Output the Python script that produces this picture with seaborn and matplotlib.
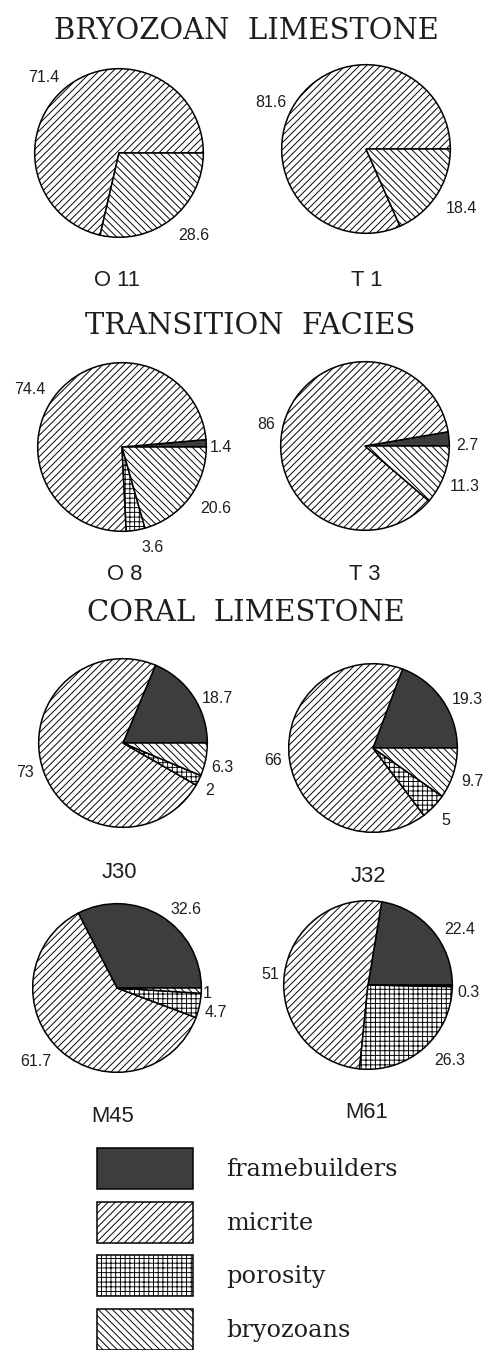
import matplotlib
matplotlib.use("Agg")
import matplotlib.pyplot as plt
from matplotlib.patches import Patch
import numpy as np
import seaborn as sns

# ---- data -------------------------------------------------------------
components = ["framebuilders", "micrite", "porosity", "bryozoans"]

o11 = [0.0, 71.4, 0.0, 28.6]
t1 = [0.0, 81.6, 0.0, 18.4]
o8 = [1.4, 74.4, 3.6, 20.6]
t3 = [2.7, 86.0, 0.0, 11.3]
j30 = [18.7, 73.0, 2.0, 6.3]
j32 = [19.3, 66.0, 5.0, 9.7]
m45 = [32.6, 61.7, 4.7, 1.0]
m61 = [22.4, 51.0, 26.3, 0.3]

sample_names = ["O 11", "T 1", "O 8", "T 3", "J30", "J32", "M45", "M61"]
group_titles = ["BRYOZOAN  LIMESTONE", "TRANSITION  FACIES", "CORAL  LIMESTONE"]

samples = dict(zip(sample_names, [o11, t1, o8, t3, j30, j32, m45, m61]))

# ---- styling ----------------------------------------------------------
sns.set_theme(style="white")
plt.rcParams["font.family"] = ["Liberation Sans", "DejaVu Sans"]
plt.rcParams["hatch.linewidth"] = 0.8
plt.rcParams["hatch.color"] = "black"

fills = {"framebuilders": "#3d3d3d", "micrite": "white",
         "porosity": "white", "bryozoans": "white"}
hatches = {"framebuilders": "", "micrite": "////",
           "porosity": "+++", "bryozoans": "\\\\\\\\"}
ink = "#1e1e1e"
serif = ["DejaVu Serif"]

W, H, DPI = 490, 1350, 85
R = 86  # pie radius in pixels


def fx(px):
    return px / W


def fy(py):
    return 1 - py / H


def pt(px):
    return px * 72 / DPI


# pie centres (pixels from top-left) and sample-name positions
layout = {
    "O 11": ((119, 153), (117, 280)),
    "T 1": ((366, 149), (367, 280)),
    "O 8": ((122, 447), (125, 575)),
    "T 3": ((365, 446), (365, 575)),
    "J30": ((123, 743), (119, 872)),
    "J32": ((373, 748), (368, 877)),
    "M45": ((117, 988), (113, 1117)),
    "M61": ((368, 985), (367, 1113)),
}

# value-label placement: (angle in degrees, distance in radii), per component
label_polar = {
    "O 11": [None, (135, 1.26), None, (-48, 1.32)],
    "T 1": [None, (154, 1.26), None, (-32, 1.33)],
    "O 8": [(0, 1.17), (148, 1.29), (-73, 1.25), (-33, 1.33)],
    "T 3": [(0.5, 1.21), (168, 1.20), None, (-22, 1.28)],
    "J30": [(25, 1.24), (197, 1.21), (-29, 1.17), (-14, 1.22)],
    "J32": [(27, 1.26), (187, 1.19), (-45, 1.22), (-18.6, 1.24)],
    "M45": [(49, 1.24), (222, 1.30), (-14, 1.21), (-3.7, 1.07)],
    "M61": [(31, 1.27), (174, 1.16), (-43, 1.32), (-4.4, 1.20)],
}

title_pos = [(246, 31), (250, 326), (246, 613)]

fig = plt.figure(figsize=(W / DPI, H / DPI), dpi=DPI)
fig.patch.set_facecolor("white")

for name, vals in samples.items():
    (cx, cy), (lx, ly) = layout[name]
    ax = fig.add_axes([fx(cx - R), fy(cy + R), 2 * R / W, 2 * R / H])
    keep = [i for i, v in enumerate(vals) if v > 0]
    wedges, _ = ax.pie(
        [vals[i] for i in keep],
        startangle=0,
        counterclock=True,
        radius=1,
        colors=[fills[components[i]] for i in keep],
        hatch=[hatches[components[i]] for i in keep],
        wedgeprops=dict(edgecolor="black", linewidth=1.3),
    )
    ax.set_xlim(-1.02, 1.02)
    ax.set_ylim(-1.02, 1.02)
    ax.set_aspect("equal")
    ax.axis("off")
    for i in keep:
        ang, dist = label_polar[name][i]
        a = np.deg2rad(ang)
        ax.text(dist * np.cos(a), dist * np.sin(a), f"{vals[i]:g}",
                ha="center", va="center", fontsize=pt(16), color=ink,
                clip_on=False)
    fig.text(fx(lx), fy(ly), name, ha="center", va="center",
             fontsize=pt(22), color=ink)

for title, (tx, ty) in zip(group_titles, title_pos):
    fig.text(fx(tx), fy(ty), title, ha="center", va="center",
             fontsize=pt(29), color=ink, family=serif)

# legend swatches: 96 x 41 px boxes on a ~54 px pitch
handles = [Patch(facecolor=fills[c], edgecolor="black", hatch=hatches[c],
                 linewidth=1.3) for c in components]
leg_em = 24
box_h = 41
# matplotlib trims 0.35*(handleheight-0.7) em of descent off the swatch
handle_h = (box_h / leg_em - 0.245) / 0.65
fig.legend(handles, components, loc="upper left",
           bbox_to_anchor=(fx(97), fy(1148)), frameon=False,
           borderpad=0, borderaxespad=0,
           handlelength=96 / leg_em, handleheight=handle_h,
           labelspacing=12.7 / leg_em, handletextpad=33 / leg_em,
           prop={"family": serif, "size": pt(leg_em)},
           labelcolor=ink)

fig.savefig("out.png", dpi=DPI, facecolor="white")
